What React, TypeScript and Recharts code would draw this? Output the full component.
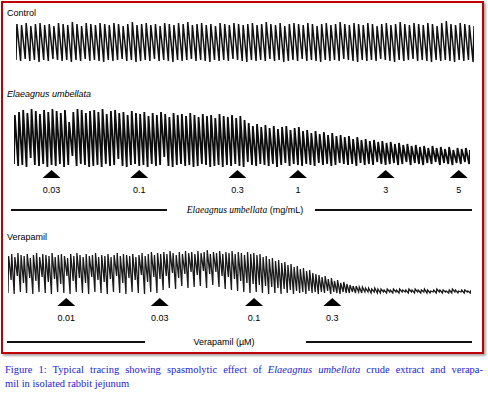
import { ComposedChart, Line, Scatter, XAxis, YAxis } from 'recharts'

const controlPeaks = [
  42, 41, 43, 40, 42, 43, 41, 42, 40, 43, 42, 41, 44, 42, 40, 43, 42, 41, 43, 42,
  41, 43, 42, 40, 42, 44, 41, 42, 43, 41, 42, 40, 43, 42, 41, 43, 42, 44, 41, 42,
  43, 41, 42, 40, 43, 42, 41, 43, 42, 41, 42, 43, 41, 42, 44, 42, 41, 43, 40, 42,
  43, 42, 41, 43, 42, 40, 42, 43, 41, 42, 44, 42, 41, 43, 42, 41, 43, 42, 40, 42,
  43, 41, 42, 44, 42, 41, 43, 42, 41, 43, 42, 40, 43, 45, 42, 41, 43, 42, 41, 40,
]
const controlTroughs = [
  6, 5, 7, 5, 6, 4, 6, 5, 7, 6, 5, 6, 4, 6, 5, 7, 5, 6, 5, 4,
  6, 5, 6, 7, 5, 6, 4, 5, 6, 5, 7, 5, 6, 5, 4, 6, 5, 6, 7, 5,
  6, 5, 4, 6, 5, 6, 5, 7, 6, 5, 4, 6, 5, 6, 5, 7, 5, 6, 4, 5,
  6, 5, 7, 5, 6, 5, 4, 6, 5, 6, 5, 7, 6, 5, 4, 6, 5, 6, 5, 7,
  6, 5, 4, 6, 5, 6, 7, 5, 6, 5, 4, 6, 5, 6, 5, 4, 6, 5, 6, 4,
]

const euPeaks = [
  55, 58, 60, 57, 61, 59, 56, 60, 58, 61, 59, 57, 60, 48, 58, 61, 60, 57, 59, 60,
  58, 61, 56, 59, 60, 57, 58, 55, 59, 57, 56, 58, 54, 57, 55, 58, 56, 53, 57, 55,
  56, 54, 57, 55, 53, 56, 54, 55, 52, 56, 54, 53, 55, 52, 54, 50, 47, 44, 46, 43,
  45, 42, 44, 41, 43, 44, 40, 42, 43, 39, 40, 37, 39, 36, 38, 35, 37, 34, 35, 33,
  34, 31, 33, 30, 31, 29, 30, 28, 29, 27, 28, 26, 27, 25, 26, 24, 25, 23, 24, 22,
  24, 22, 23, 21, 23, 20, 22, 21, 22, 20,
]
const euTroughs = [
  6, 4, 5, 3, 12, 5, 4, 6, 3, 5, 4, 6, 3, 5, 14, 4, 6, 5, 3, 4,
  5, 3, 6, 4, 5, 11, 4, 3, 5, 6, 4, 5, 3, 6, 4, 5, 13, 4, 3, 5,
  6, 4, 5, 3, 4, 6, 5, 3, 4, 5, 3, 5, 4, 6, 4, 3, 8, 5, 4, 6,
  5, 4, 6, 3, 5, 7, 4, 6, 5, 4, 6, 5, 4, 7, 5, 6, 4, 5, 7, 6,
  5, 6, 4, 7, 5, 6, 5, 8, 6, 5, 6, 7, 5, 6, 8, 5, 7, 6, 5, 7,
  6, 8, 5, 7, 6, 5, 7, 6, 8, 6,
]
const euDoseAt = [9, 30, 53.5, 68, 89, 106.5]
const euDoseLabels = ['0.03', '0.1', '0.3', '1', '3', '5']

const verPeaks = [
  42, 44, 41, 45, 43, 42, 44, 40, 43, 45, 41, 44, 43, 42, 45, 41, 43, 44, 42, 40,
  44, 42, 45, 43, 41, 44, 42, 43, 45, 41, 43, 42, 44, 41, 43, 45, 42, 44, 43, 42,
  44, 41, 43, 45, 42, 44, 46, 43, 45, 44, 46, 44, 47, 45, 43, 46, 44, 47, 45, 46,
  44, 47, 45, 46, 48, 44, 46, 45, 47, 44, 46, 45, 47, 44, 46, 45, 43, 46, 44, 45,
  43, 44, 41, 42, 39, 40, 37, 38, 35, 36, 33, 34, 31, 32, 29, 30, 27, 28, 25, 24,
  23, 21, 22, 19, 20, 17, 18, 15, 16, 14, 13, 12, 12, 11, 11, 10, 10, 9, 10, 9,
  9, 8, 9, 8, 9, 8, 9, 8, 8, 9, 8, 9, 8, 8, 9, 8, 7, 8, 9, 8,
  8, 7, 8, 9, 8, 7, 8, 8, 7, 8,
]
const verTroughs = [
  5, 18, 4, 22, 6, 15, 5, 20, 4, 17, 6, 21, 5, 16, 4, 19, 6, 14, 5, 22,
  4, 17, 6, 20, 5, 15, 4, 21, 6, 18, 5, 16, 4, 19, 6, 22, 5, 15, 4, 20,
  6, 18, 5, 23, 4, 16, 6, 21, 5, 19, 8, 22, 10, 25, 9, 20, 12, 24, 10, 26,
  11, 23, 12, 27, 10, 24, 13, 26, 11, 22, 9, 21, 8, 19, 7, 17, 6, 15, 5, 14,
  6, 13, 5, 12, 4, 11, 5, 10, 4, 9, 5, 8, 4, 7, 5, 6, 4, 7, 5, 6,
  4, 6, 5, 7, 4, 6, 5, 4, 6, 5, 5, 6, 5, 6, 5, 6, 6, 5, 6, 5,
  5, 6, 5, 6, 5, 6, 5, 6, 6, 5, 6, 5, 6, 5, 6, 5, 5, 6, 5, 6,
  5, 6, 5, 5, 6, 5, 6, 5, 6, 5,
]
const verDoseAt = [18.8, 48.9, 79.3, 104.5]
const verDoseLabels = ['0.01', '0.03', '0.1', '0.3']

// fast rise to the peak, slower relaxation back down
const buildTrace = (peaks: number[], troughs: number[]) =>
  peaks.flatMap((p, i) => [
    { t: i, v: troughs[i] },
    { t: i + 0.2, v: p },
  ])

const buildDoses = (at: number[], labels: string[]) => at.map((t, i) => ({ t, v: 0, label: labels[i] }))

const sans = '"Liberation Sans", Arial, sans-serif'

function DoseMark(props: any) {
  const { cx, cy, payload } = props
  if (cx == null || cy == null) return null
  return (
    <g>
      <polygon points={`${cx},${cy} ${cx - 9},${cy + 8} ${cx + 9},${cy + 8}`} fill="#000" />
      <text x={cx} y={cy + 23} textAnchor="middle" fontSize={9} fontFamily={sans} fill="#000">
        {payload.label}
      </text>
    </g>
  )
}

interface TraceProps {
  left: number
  top: number
  width: number
  height: number
  domain: [number, number]
  peaks: number[]
  troughs: number[]
  doses?: { t: number; v: number; label: string }[]
  stroke: string
  strokeWidth: number
}

function Trace({ left, top, width, height, domain, peaks, troughs, doses, stroke, strokeWidth }: TraceProps) {
  const data = buildTrace(peaks, troughs)
  return (
    <div style={{ position: 'absolute', left, top }}>
      <ComposedChart width={width} height={height} data={data} margin={{ top: 0, right: 0, bottom: 0, left: 0 }}>
        <XAxis dataKey="t" type="number" domain={[0, peaks.length - 0.8]} allowDataOverflow hide />
        <YAxis type="number" domain={domain} allowDataOverflow hide />
        <Line
          dataKey="v"
          type="linear"
          stroke={stroke}
          strokeWidth={strokeWidth}
          dot={false}
          activeDot={false}
          isAnimationActive={false}
        />
        {doses && <Scatter data={doses} dataKey="v" shape={DoseMark} isAnimationActive={false} />}
      </ComposedChart>
    </div>
  )
}

function Label({ x, y, children, style }: { x: number; y: number; children: any; style?: any }) {
  return (
    <div
      style={{
        position: 'absolute',
        left: x,
        top: y - 6,
        lineHeight: '12px',
        fontSize: 9,
        fontFamily: sans,
        color: '#000',
        whiteSpace: 'nowrap',
        ...style,
      }}
    >
      {children}
    </div>
  )
}

function Rule({ x1, x2, y }: { x1: number; x2: number; y: number }) {
  return <div style={{ position: 'absolute', left: x1, top: y - 1, width: x2 - x1, height: 2, background: '#111' }} />
}

function CenterText({ cx, y, children }: { cx: number; y: number; children: any }) {
  return (
    <div
      style={{
        position: 'absolute',
        left: cx - 100,
        width: 200,
        top: y - 6,
        lineHeight: '12px',
        textAlign: 'center',
        fontSize: 9,
        fontFamily: sans,
        color: '#000',
        whiteSpace: 'nowrap',
      }}
    >
      {children}
    </div>
  )
}

export default function App() {
  return (
    <div style={{ position: 'absolute', left: 0, top: 0, width: 488, height: 394, background: '#fff', overflow: 'hidden' }}>
      <div
        style={{
          position: 'absolute',
          left: 1,
          top: 1,
          width: 483,
          height: 353,
          boxSizing: 'border-box',
          border: '2px solid #c00000',
          boxShadow: '2px 2px 2px #aaa',
        }}
      />

      <Label x={7} y={13}>Control</Label>
      <Trace
        left={16}
        top={16}
        width={458}
        height={50}
        domain={[0, 50]}
        peaks={controlPeaks}
        troughs={controlTroughs}
        stroke="#111"
        strokeWidth={1.5}
      />

      <Label x={7} y={94} style={{ fontStyle: 'italic' }}>Elaeagnus umbellata</Label>
      <Trace
        left={14}
        top={104}
        width={456}
        height={94}
        domain={[-28, 66]}
        peaks={euPeaks}
        troughs={euTroughs}
        doses={buildDoses(euDoseAt, euDoseLabels)}
        stroke="#0d0d0d"
        strokeWidth={1.8}
      />
      <Rule x1={11} x2={167} y={210} />
      <Rule x1={315} x2={472} y={210} />
      <CenterText cx={245} y={210}>
        <span style={{ fontFamily: '"Liberation Serif", serif', fontStyle: 'italic', fontSize: 9.5 }}>Elaeagnus umbellata</span> (mg/mL)
      </CenterText>

      <Label x={7} y={237}>Verapamil</Label>
      <Trace
        left={8}
        top={246}
        width={463}
        height={80}
        domain={[-28, 52]}
        peaks={verPeaks}
        troughs={verTroughs}
        doses={buildDoses(verDoseAt, verDoseLabels)}
        stroke="#1a1a1a"
        strokeWidth={1.3}
      />
      <Rule x1={7} x2={145} y={342} />
      <Rule x1={306} x2={472} y={342} />
      <CenterText cx={224} y={342}>Verapamil (µM)</CenterText>

      <div
        style={{
          position: 'absolute',
          left: 5,
          top: 363,
          width: 478,
          fontFamily: '"Liberation Serif", "Times New Roman", serif',
          fontSize: 10.5,
          lineHeight: '14px',
          color: '#2222dd',
        }}
      >
        <div style={{ whiteSpace: 'nowrap', textAlign: 'justify', textAlignLast: 'justify' }}>
          Figure 1: Typical tracing showing spasmolytic effect of <i>Elaeagnus umbellata</i> crude extract and verapa-
        </div>
        <div style={{ whiteSpace: 'nowrap' }}>mil in isolated rabbit jejunum</div>
      </div>
    </div>
  )
}
